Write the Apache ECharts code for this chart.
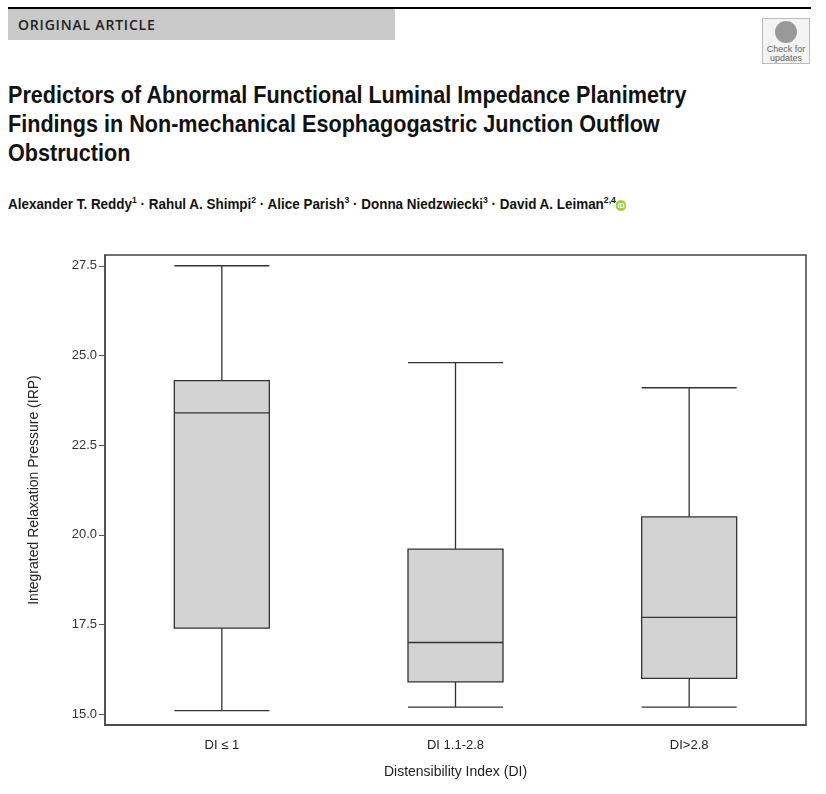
<!DOCTYPE html><html><head><meta charset="utf-8">
<script src="https://cdn.jsdelivr.net/npm/echarts@6/dist/echarts.min.js"></script>
<style>
body{margin:0;width:826px;height:794px;background:#fff;position:relative;overflow:hidden;font-family:"Open Sans",sans-serif;}
.rule{position:absolute;left:8px;top:7px;width:803px;height:2px;background:#000}
.tag{position:absolute;left:8px;top:9px;width:387px;height:31px;background:#c9c9c9;font:600 14px "Open Sans",sans-serif;letter-spacing:0.8px;line-height:31px;padding-left:10px;box-sizing:border-box;color:#222}
.chk{position:absolute;left:762px;top:18px;width:48px;height:46px;border:1px solid #bbb;background:#f3f3f3;text-align:center;font:9px "Liberation Sans",sans-serif;color:#666;line-height:9px;box-sizing:border-box}
.chk .c{width:22px;height:22px;border-radius:50%;background:#999;margin:2px auto 2px}
.title{position:absolute;left:8px;top:80px;font:bold 24px "Liberation Sans",sans-serif;line-height:29px;color:#111;transform:scaleX(0.9);transform-origin:left top;white-space:nowrap}
.auth{position:absolute;left:8px;top:195px;font:bold 14px "Liberation Sans",sans-serif;color:#111;transform:scaleX(0.96);transform-origin:left top;white-space:nowrap}
.auth sup{font-size:9px}
.orc{display:inline-block;width:11px;height:11px;border-radius:50%;background:#a6ce39;color:#fff;font-size:7px;line-height:11px;text-align:center;vertical-align:1px}
#c{position:absolute;left:0;top:240px;width:826px;height:554px}
</style></head><body>
<div class="rule"></div>
<div class="tag">ORIGINAL ARTICLE</div>
<div class="chk"><div class="c"></div>Check for<br>updates</div>
<div class="title">Predictors of Abnormal Functional Luminal Impedance Planimetry<br>Findings in Non-mechanical Esophagogastric Junction Outflow<br>Obstruction</div>
<div class="auth">Alexander T. Reddy<sup>1</sup> · Rahul A. Shimpi<sup>2</sup> · Alice Parish<sup>3</sup> · Donna Niedzwiecki<sup>3</sup> · David A. Leiman<sup>2,4</sup><span class="orc">iD</span></div>
<div id="c"></div>
<script>
const categories=["DI ≤ 1","DI 1.1-2.8","DI>2.8"];
const mins=[15.1,15.2,15.2];
const q1s=[17.4,15.9,16.0];
const medians=[23.4,17.0,17.7];
const q3s=[24.3,19.6,20.5];
const maxs=[27.5,24.8,24.1];
const yTicks=[15,17.5,20,22.5,25,27.5];
const data=categories.map((c,i)=>[mins[i],q1s[i],medians[i],q3s[i],maxs[i]]);
const ch=echarts.init(document.getElementById('c'));
const f='"Liberation Sans",Arial,sans-serif';
ch.setOption({animation:false,
grid:{left:105,right:20,top:15,bottom:69},
xAxis:{type:'category',data:categories,name:'Distensibility Index (DI)',nameLocation:'middle',nameGap:40,
 nameTextStyle:{fontFamily:f,fontSize:14,color:'#222'},
 axisLine:{show:true,lineStyle:{color:'#333',width:1.5}},axisTick:{alignWithLabel:true,length:6,lineStyle:{color:'#333'}},
 axisLabel:{fontFamily:f,fontSize:13,color:'#222',margin:14}},
yAxis:{type:'value',min:14.7,max:27.8,name:'Integrated Relaxation Pressure (IRP)',nameLocation:'middle',nameGap:64,
 nameTextStyle:{fontFamily:f,fontSize:14,color:'#222'},
 axisLine:{show:true,lineStyle:{color:'#555',width:1.5}},
 axisTick:{show:true,customValues:yTicks,length:6,lineStyle:{color:'#555'}},
 axisLabel:{customValues:yTicks,formatter:v=>v.toFixed(1),fontFamily:f,fontSize:13,color:'#333'},splitLine:{show:false}},
series:[{type:'boxplot',data:data,boxWidth:[95,95],itemStyle:{color:'#d3d3d3',borderColor:'#333',borderWidth:1.3}},
{type:'line',data:[],markArea:{silent:true,itemStyle:{color:'none',borderColor:'#444',borderWidth:1.5},data:[[{x:105,y:15},{x:806,y:485}]]}}]
});
</script></body></html>
